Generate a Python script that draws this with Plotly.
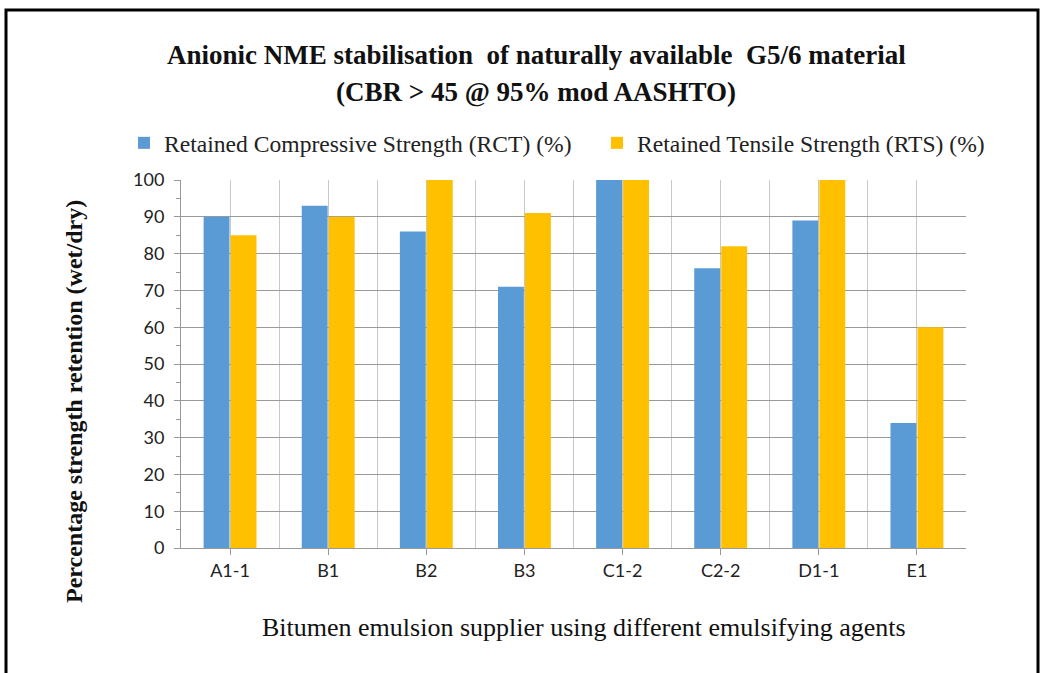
import plotly.graph_objects as go

categories = ["A1-1", "B1", "B2", "B3", "C1-2", "C2-2", "D1-1", "E1"]
rct_values = [90, 93, 86, 71, 100, 76, 89, 34]
rts_values = [85, 90, 100, 91, 100, 82, 100, 60]
series_names = ["Retained Compressive Strength (RCT) (%)", "Retained Tensile Strength (RTS) (%)"]
y_ticks = list(range(0, 101, 10))

x_pos = list(range(len(categories)))

W, H = 1044, 673
L, R, T, B = 181, 78, 180, 125
pw, ph = W - L - R, H - T - B

def px(x):
    return (x - L) / pw

def py(y):
    return (H - B - y) / ph

serif = "Liberation Serif"
sans = "Lato"

fig = go.Figure()
fig.add_trace(go.Bar(x=x_pos, y=rct_values, name=series_names[0], legend="legend",
                     marker=dict(color="#5B9BD5", line=dict(width=0))))
fig.add_trace(go.Bar(x=x_pos, y=rts_values, name=series_names[1], legend="legend2",
                     marker=dict(color="#FFC000", line=dict(width=0))))

legend_common = dict(orientation="h", xanchor="left", yanchor="middle",
                     font=dict(family=serif, size=23.6, color="#222"),
                     itemsizing="constant", bgcolor="rgba(0,0,0,0)")

fig.update_layout(
    width=W, height=H,
    margin=dict(l=L, r=R, t=T, b=B),
    paper_bgcolor="white", plot_bgcolor="white",
    barmode="group", bargap=0.45, bargroupgap=0.04,
    showlegend=True,
    legend=dict(x=px(124), y=py(143), **legend_common),
    legend2=dict(x=px(597), y=py(143), **legend_common),
    xaxis=dict(
        range=[-0.5, len(categories) - 0.5],
        tickmode="array", tickvals=x_pos, ticktext=categories,
        tickfont=dict(family=sans, size=18, color="#222"),
        showgrid=False,
        minor=dict(dtick=0.5, tick0=-0.5, showgrid=True, gridcolor="#C8C8C8", gridwidth=1),
        showline=True, linecolor="#999", linewidth=1,
        ticks="outside", ticklen=6, tickcolor="#999",
        zeroline=False,
    ),
    yaxis=dict(
        range=[0, 100],
        tickmode="array", tickvals=y_ticks,
        tickfont=dict(family=sans, size=18, color="#222"),
        showgrid=True, gridcolor="#9A9A9A", gridwidth=1,
        showline=True, linecolor="#999", linewidth=1,
        ticks="outside", ticklen=6, tickcolor="#999",
        minor=dict(dtick=5, ticks="outside", ticklen=4, tickcolor="#999", showgrid=False),
        zeroline=False, ticklabelstandoff=6,
    ),
    annotations=[
        dict(text="<b>Anionic NME stabilisation  of naturally available  G5/6 material</b>",
             x=px(536), y=py(55), xref="paper", yref="paper", showarrow=False,
             xanchor="center", yanchor="middle",
             font=dict(family=serif, size=27, color="#111")),
        dict(text="<b>(CBR > 45 @ 95% mod AASHTO)</b>",
             x=px(536), y=py(92), xref="paper", yref="paper", showarrow=False,
             xanchor="center", yanchor="middle",
             font=dict(family=serif, size=27, color="#111")),
        dict(text="<b>Percentage strength retention (wet/dry)</b>",
             x=px(74), y=py(402), xref="paper", yref="paper", showarrow=False,
             xanchor="center", yanchor="middle",
             textangle=-90, font=dict(family=serif, size=24, color="#111")),
        dict(text="Bitumen emulsion supplier using different emulsifying agents",
             x=px(584), y=py(627), xref="paper", yref="paper", showarrow=False,
             xanchor="center", yanchor="middle",
             font=dict(family=serif, size=26, color="#111")),
    ],
    shapes=[
        dict(type="rect", xref="paper", yref="paper",
             x0=px(6), x1=px(1038), y0=py(700), y1=py(10),
             line=dict(color="black", width=3), fillcolor="rgba(0,0,0,0)", layer="below"),
    ],
)

fig.write_html("out.html", config={"displayModeBar": False},
               post_script="document.body.style.margin='0';document.body.style.overflow='hidden';")
